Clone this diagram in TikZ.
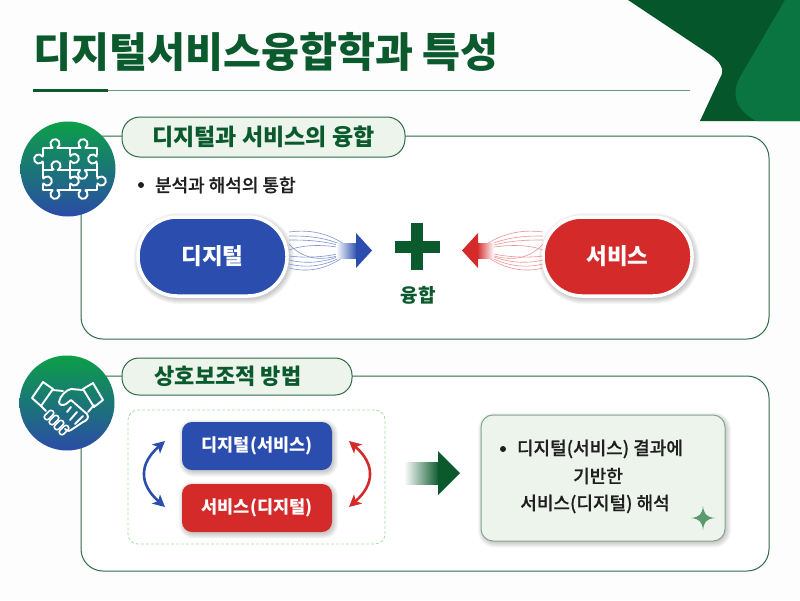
\documentclass[tikz,border=0pt]{standalone}
\usepackage{fontspec}
\setmainfont{Noto Sans CJK KR}
\newfontfamily\medf[FakeBold=0.5]{Noto Sans CJK KR Medium}
\usetikzlibrary{arrows.meta,calc}
\definecolor{dgreen}{HTML}{0B5A2E}
\definecolor{cdark}{HTML}{05562B}
\definecolor{clight}{HTML}{0A7541}
\definecolor{line}{HTML}{2F6B46}
\definecolor{pale}{HTML}{EDF4EC}
\definecolor{bluec}{HTML}{2A4DAE}
\definecolor{redc}{HTML}{D42A2A}
\definecolor{topgreen}{HTML}{0C9F48}
\definecolor{midteal}{HTML}{0E7F80}
\definecolor{botblue}{HTML}{2A4CA6}
\definecolor{paper}{HTML}{FDFDFD}
\definecolor{starc}{HTML}{5A9A6E}
\tikzset{
 panel/.style={draw=line,line width=1pt,fill=white,rounded corners=22pt,inner sep=0pt,outer sep=0pt},
 pill/.style={draw=line,line width=1pt,fill=pale,inner sep=0pt,outer sep=0pt,font=\bfseries\fontsize{23}{23}\selectfont,text=dgreen},
 iconc/.style={circle,minimum size=95pt,inner sep=0pt,outer sep=0pt,top color=topgreen,middle color=midteal,bottom color=botblue},
 bigpill/.style={draw=white,line width=3.5pt,inner sep=0pt,outer sep=0pt,minimum width=149pt,minimum height=79pt,rounded corners=39pt,text=white,font=\bfseries\fontsize{22.5}{22.5}\selectfont},
 smallbox/.style={inner sep=0pt,outer sep=0pt,minimum width=150pt,minimum height=48pt,rounded corners=10pt,text=white,font=\bfseries\fontsize{17.5}{17.5}\selectfont},
 body/.style={inner sep=0pt,outer sep=0pt,text=black!88,font=\medf\fontsize{18}{18}\selectfont},
 dotb/.style={circle,fill=black!88,minimum size=6pt,inner sep=0pt,outer sep=0pt},
 fanb/.style={bluec!60,line width=.6pt},
 fanr/.style={redc!50,line width=.6pt},
 twoway/.style={line width=2.6pt,{Stealth[length=12pt,width=12pt,inset=3pt]}-{Stealth[length=12pt,width=12pt,inset=3pt]}},
 ic/.style={draw=white,line width=1.9pt,line cap=round,line join=round},
}
\newcommand\knob[4]{\draw[ic] ([shift={(#1,#2)}]#3:4.6pt) arc[start angle=#3,end angle=#4,radius=4.6pt];}
\newcommand\lowered[1]{\raisebox{-1.6pt}{#1}}
% soft shadow: centre x, centre y, width, height, radius
\newcommand\softshadow[5]{\foreach \gr in {0,1,...,5}{
 \fill[black,opacity=.035,rounded corners=#5+\gr*1pt] (#1-#3/2-\gr+1.5,#2-#4/2-\gr+2) rectangle (#1+#3/2+\gr+1.5,#2+#4/2+\gr+2);}}
\begin{document}
\begin{tikzpicture}[x=1pt,y=-1pt]
\useasboundingbox (0,0) rectangle (800,600);
\fill[paper] (0,0) rectangle (800,600);
% corner
\fill[cdark] (628,0) -- (706,52) .. controls (722,62) and (725,70) .. (720,78) -- (700,121) -- (800,121) -- (800,0) -- cycle;
\fill[clight] (785,0) -- (740,77) .. controls (732,92) and (733,108) .. (756,121) -- (800,121) -- (800,0) -- cycle;
% title
\node[anchor=west,inner sep=0pt,text=dgreen,font=\bfseries\fontsize{41.3}{41.3}\selectfont] (title) at (33,52) {디지털서비스융합학과 특성};
\coordinate (ua) at (33,90); \coordinate (ub) at (108,90); \coordinate (uc) at (690,90);
\draw[line width=.9pt,line!70!white] (ub) -- (uc);
\draw[line width=3pt,dgreen] (ua) -- (ub);
% panels
\node[panel,minimum width=688pt,minimum height=203pt] (panelA) at (425,237.5) {};
\node[panel,minimum width=688pt,minimum height=195pt] (panelB) at (425,473.5) {};
% headers
\node[pill,minimum width=283pt,minimum height=40pt,rounded corners=18pt] (pillA) at (263.5,137) {\lowered{디지털과 서비스의 융합}};
\node[pill,minimum width=230pt,minimum height=37pt,rounded corners=17pt,font=\bfseries\fontsize{22}{22}\selectfont] (pillB) at (237,376.5) {\hspace{-18pt}\lowered{상호보조적 방법}\hspace{14pt}};
% icons
\node[iconc] (iconA) at (68,169) {};
\node[iconc] (iconB) at (67,403) {};
% puzzle
\draw[ic] (43,148) -- (52.5,148) (57.5,148) -- (80.5,148) (85.5,148) -- (97,148) -- (97,155) (97,163) -- (97,177) (97,185) -- (97,190) -- (85.5,190) (80.5,190) -- (57.5,190) (52.5,190) -- (43,190) -- (43,184) (43,178) -- (43,162) (43,156) -- (43,148);
\draw[ic] (70,148) -- (70,155) (70,162) -- (70,178) (70,184) -- (70,190);
\draw[ic] (43,170) -- (52.5,170) (57.5,170) -- (80,170) (85,170) -- (97,170);
\knob{55}{143.7}{-60}{240}
\knob{83}{143.7}{-60}{240}
\knob{38.7}{159}{30}{330}
\knob{92.7}{159}{30}{330}
\knob{47.3}{181}{-150}{150}
\knob{101.3}{181}{-150}{150}
\knob{55}{194.3}{120}{420}
\knob{83}{194.3}{120}{420}
\knob{74.3}{158.5}{-150}{150}
\knob{74.3}{181}{-150}{150}
\knob{56}{165.7}{-60}{240}
\knob{82.5}{174.3}{120}{420}
% handshake
\draw[ic] (32,398) -- (43,382) -- (53,389) -- (41,406) -- cycle;
\draw[ic] (83,389) -- (93,383) -- (103,400) -- (94,407) -- cycle;
\draw[ic] (53,390) -- (63,391);
\draw[ic] (83,390) -- (71,389) .. controls (66,390) and (60,396) .. (59,402) .. controls (59,405) and (63,406) .. (66,404) -- (71,400) -- (87,414) .. controls (90,418) and (86,421) .. (83,422) -- (71,430) .. controls (68,432) and (66,430) .. (65,429);
\draw[ic] (94,405) -- (88,412);
\draw[ic] (70,420) -- (77,412) (75,424) -- (83,416) (67,412) -- (71,407);
\foreach \cx/\cy in {49/415,54/420,59/425,64/430}{
 \draw[ic,line width=1.6pt,rotate around={45:(\cx,\cy)},rounded corners=2.5pt] (\cx-5.5,\cy-2.7) rectangle (\cx+5.5,\cy+2.7);
}
\draw[ic] (41,406) -- (46,411);
% bullet 1
\node[dotb] (bulA) at (141,185) {};
\node[body,anchor=west] (txtA) at (155,185) {분석과 해석의 통합};
% big pills
\softshadow{212.5}{256.5}{151}{81}{40pt}
\softshadow{617.5}{256.5}{151}{81}{40pt}
\node[bigpill,fill=bluec] (dig) at (212.5,256.5) {\lowered{디지털}};
\node[bigpill,fill=redc] (svc) at (617.5,256.5) {\lowered{서비스}};
% fan blue
\coordinate (bf) at (352,250);
\foreach \ya/\yb in {232/230,236/236,240/240,244/262,250/244,256/258,260/264,264/268,268/272}{
 \draw[fanb] (289,\ya) .. controls (305,\yb) and (328,\yb) .. (bf);
}
\fill[left color=white,right color=bluec,draw=none] (336,243) rectangle (357,258);
\coordinate (bh) at (372,250.5);
\fill[bluec] (356,233) -- (bh) -- (356,268) -- cycle;
% fan red
\coordinate (rf) at (478,250);
\foreach \ya/\yb in {232/230,236/236,240/240,244/262,250/244,256/258,260/264,264/268,268/272}{
 \draw[fanr] (543,\ya) .. controls (527,\yb) and (504,\yb) .. (rf);
}
\fill[right color=white,left color=redc,draw=none] (477,243) rectangle (494,258);
\coordinate (rh) at (462,250.5);
\fill[redc] (478,233) -- (rh) -- (478,268) -- cycle;
% plus
\fill[dgreen] (411,223) rectangle (423,270);
\fill[dgreen] (395,241) rectangle (440,253);
\node[inner sep=0pt,text=dgreen,font=\bfseries\fontsize{19}{19}\selectfont] (yung) at (418,295) {융합};
% dashed box
\node[draw=line!50!green!40!white,dash pattern=on 3pt off 2pt,line width=.8pt,rounded corners=10pt,minimum width=257pt,minimum height=134pt,inner sep=0pt,outer sep=0pt,fill=white] (dash) at (256.5,477) {};
\softshadow{257}{446}{149}{47}{9pt}
\softshadow{257}{508}{149}{47}{9pt}
\node[smallbox,fill=bluec] (bx1) at (257,446) {\lowered{디지털(서비스)}};
\node[smallbox,fill=redc] (bx2) at (257,508) {\lowered{서비스(디지털)}};
\coordinate (ba) at (165,441); \coordinate (bb) at (165,507);
\coordinate (ra) at (349,441); \coordinate (rb) at (349,507);
\draw[twoway,bluec] (ba) .. controls (139,464) and (139,484) .. (bb);
\draw[twoway,redc] (ra) .. controls (375,464) and (375,484) .. (rb);
% green arrow
\fill[left color=white,right color=dgreen,draw=none] (404,462) rectangle (439,484);
\coordinate (gh) at (460,473);
\fill[dgreen] (438,451) -- (gh) -- (438,495) -- cycle;
% result
\softshadow{603}{478}{243}{125}{12pt}
\node[draw=line!60!white,line width=1pt,fill=pale,rounded corners=12pt,minimum width=244pt,minimum height=126pt,inner sep=0pt,outer sep=0pt] (res) at (603,478) {};
\node[dotb] (bulB) at (503,449) {};
\node[body,anchor=west] (r1) at (517,449) {디지털(서비스) 결과에};
\node[body] (r2) at (598,476) {기반한};
\node[body] (r3) at (595,504) {서비스(디지털) 해석};
% star
\fill[starc] (703,506) .. controls (704,514) and (706,517) .. (715,518) .. controls (706,519) and (704,522) .. (703,530) .. controls (702,522) and (700,519) .. (691,518) .. controls (700,517) and (702,514) .. (703,506) -- cycle;
\end{tikzpicture}
\end{document}
